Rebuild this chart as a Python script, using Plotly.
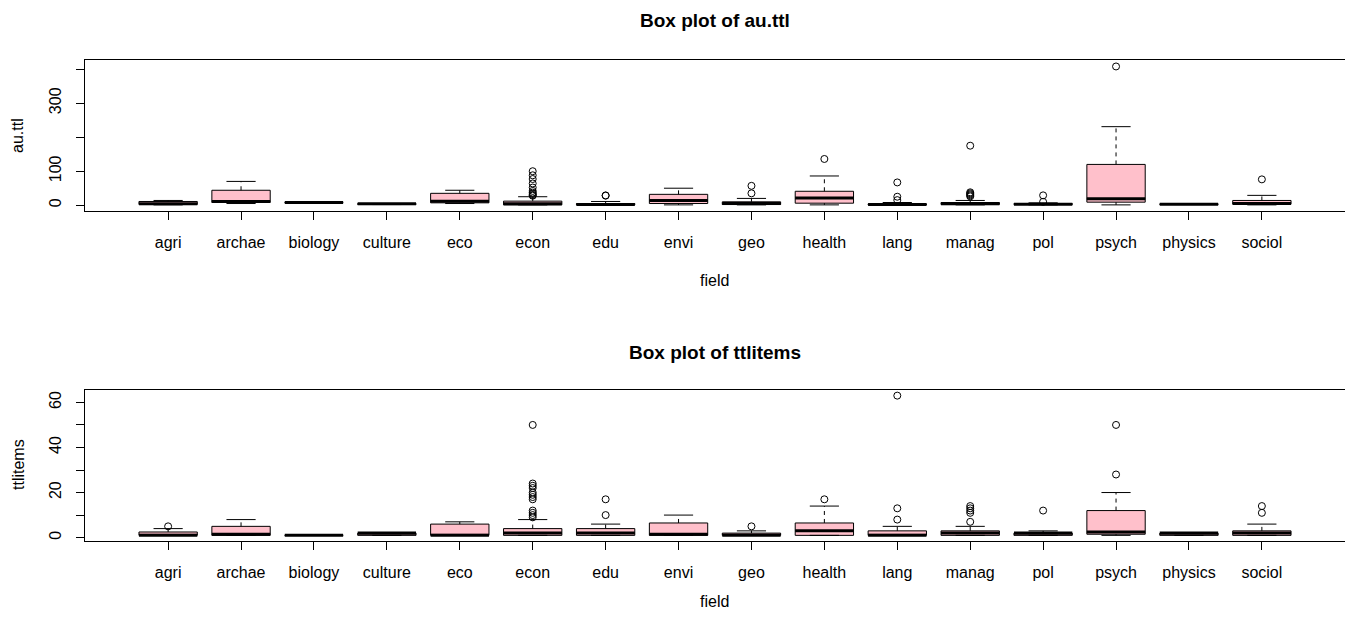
import plotly.graph_objects as go

# ---------------- data ----------------
fields = ["agri", "archae", "biology", "culture", "eco", "econ", "edu", "envi",
          "geo", "health", "lang", "manag", "pol", "psych", "physics", "sociol"]
positions = list(range(1, len(fields) + 1))

# au.ttl  (five-number summaries + outliers)
au_lower  = [1, 5, 8, 2, 5, 1, 1, 1, 1, 1, 1, 1, 1, 1, 2, 1]
au_q1     = [2, 8, 8, 2, 7, 1, 1, 5, 2, 6, 1, 2, 2, 9, 2, 3]
au_median = [4, 11, 8, 4, 12, 4, 2, 14, 5, 21, 2, 4, 3, 19, 3, 5]
au_q3     = [11, 44, 8, 5, 35, 12, 5, 32, 10, 41, 4, 8, 5, 120, 4, 14]
au_upper  = [14, 70, 8, 5, 44, 25, 11, 50, 20, 86, 8, 14, 7, 231, 4, 29]
au_out = [[], [], [], [], [],
          [100, 88, 77, 64, 52, 42, 37, 33, 30, 28],
          [28, 29], [], [57, 35], [136], [67, 25, 15],
          [175, 38, 35, 32, 29, 26], [29, 10], [408], [], [76]]

# ttlitems
tt_lower  = [1, 1, 1, 1, 1, 1, 1, 1, 1, 1, 1, 1, 1, 1, 1, 1]
tt_q1     = [1, 1, 1, 1, 1, 1, 1, 1, 1, 1, 1, 1, 1, 1.5, 1, 1]
tt_median = [1, 1.5, 1, 2, 1, 2, 2, 1.5, 1, 3, 1, 2, 2, 2.5, 2, 2]
tt_q3     = [2.5, 5, 1, 2, 6, 4, 4, 6.5, 2, 6.5, 3, 3, 2, 12, 2, 3]
tt_upper  = [4, 8, 1, 2, 7, 8, 6, 10, 3, 14, 5, 5, 3, 20, 2, 6]
tt_out = [[5], [], [], [], [],
          [50, 24, 23, 22, 20, 19, 18, 17, 12, 11, 10, 9],
          [17, 10], [], [5], [17], [63, 13, 8],
          [14, 13, 12, 11, 7], [12], [50, 28], [], [14, 11]]

au_yticks = [0, 100, 200, 300, 400]
au_yticktext = ["0", "100", "", "300", ""]
tt_yticks = [0, 10, 20, 30, 40, 50, 60]
tt_yticktext = ["0", "", "20", "", "40", "", "60"]

# ---------------- style ----------------
FONT = "Liberation Sans, Arial, sans-serif"
PINK = "#FFC0CB"
BOXW = 0.8
CAPW = 0.4
OFF = 8                      # page body margin
W, H = 1353 - 2 * OFF, 618 - 2 * OFF

fig = go.Figure()


def add_panel(xa, ya, lower, q1, med, q3, upper, outs):
    fig.add_trace(go.Box(
        x=positions, q1=q1, median=med, q3=q3, lowerfence=q1, upperfence=q3,
        width=BOXW, whiskerwidth=0, fillcolor=PINK,
        line=dict(color="black", width=1), boxpoints=False,
        xaxis=xa, yaxis=ya, showlegend=False, hoverinfo="skip"))
    wx, wy, cx, cy, mx, my, ox, oy = [], [], [], [], [], [], [], []
    for p, lo, a, m, b, hi, o in zip(positions, lower, q1, med, q3, upper, outs):
        wx += [p, p, None, p, p, None]
        wy += [b, hi, None, lo, a, None]
        cx += [p - CAPW / 2, p + CAPW / 2, None, p - CAPW / 2, p + CAPW / 2, None]
        cy += [hi, hi, None, lo, lo, None]
        mx += [p - BOXW / 2, p + BOXW / 2, None]
        my += [m, m, None]
        ox += [p] * len(o)
        oy += o
    fig.add_trace(go.Scatter(x=wx, y=wy, mode="lines", xaxis=xa, yaxis=ya,
                             line=dict(color="black", width=1, dash="4px,4px"),
                             showlegend=False, hoverinfo="skip"))
    fig.add_trace(go.Scatter(x=cx, y=cy, mode="lines", xaxis=xa, yaxis=ya,
                             line=dict(color="black", width=1),
                             showlegend=False, hoverinfo="skip"))
    fig.add_trace(go.Scatter(x=mx, y=my, mode="lines", xaxis=xa, yaxis=ya,
                             line=dict(color="black", width=3),
                             showlegend=False, hoverinfo="skip"))
    fig.add_trace(go.Scatter(x=ox, y=oy, mode="markers", xaxis=xa, yaxis=ya,
                             marker=dict(symbol="circle-open", size=7,
                                         color="black", line=dict(width=1)),
                             showlegend=False, hoverinfo="skip"))


add_panel("x", "y", au_lower, au_q1, au_median, au_q3, au_upper, au_out)
add_panel("x2", "y2", tt_lower, tt_q1, tt_median, tt_q3, tt_upper, tt_out)


def px_x(x):
    return (x - OFF) / W


def px_y(y):
    return (H - (y - OFF)) / H


xdom = [px_x(85), px_x(1345)]
top_dom = [px_y(211), px_y(60)]
bot_dom = [px_y(541), px_y(390)]

common_x = dict(range=[-0.14, 17.14], tickvals=positions, ticktext=fields,
                ticks="outside", ticklen=8, tickcolor="black", tickwidth=1,
                showline=True, mirror=True, linecolor="black", linewidth=1,
                showgrid=False, zeroline=False, ticklabelstandoff=9,
                tickfont=dict(family=FONT, size=16, color="black"),
                domain=xdom, fixedrange=True)
common_y = dict(ticks="outside", ticklen=8, tickcolor="black", tickwidth=1,
                showline=True, mirror=True, linecolor="black", linewidth=1,
                showgrid=False, zeroline=False, tickangle=-90,
                ticklabelstandoff=9,
                tickfont=dict(family=FONT, size=16, color="black"),
                fixedrange=True)

fig.update_layout(
    width=W, height=H, margin=dict(l=0, r=0, t=0, b=0),
    paper_bgcolor="white", plot_bgcolor="white",
    xaxis=dict(common_x, anchor="y"),
    xaxis2=dict(common_x, anchor="y2"),
    yaxis=dict(common_y, anchor="x", domain=top_dom, range=[-17, 427],
               tickvals=au_yticks, ticktext=au_yticktext),
    yaxis2=dict(common_y, anchor="x2", domain=bot_dom, range=[-1.5, 65.5],
                tickvals=tt_yticks, ticktext=tt_yticktext),
    font=dict(family=FONT, color="black"),
)

xc = px_x((85 + 1345) / 2)
ann = [
    dict(text="<b>Box plot of au.ttl</b>", x=xc, y=px_y(20), size=19, angle=0),
    dict(text="<b>Box plot of ttlitems</b>", x=xc, y=px_y(352), size=19, angle=0),
    dict(text="field", x=xc, y=px_y(280), size=16, angle=0),
    dict(text="field", x=xc, y=px_y(601), size=16, angle=0),
    dict(text="au.ttl", x=px_x(18), y=px_y(136), size=16, angle=-90),
    dict(text="ttlitems", x=px_x(18), y=px_y(465), size=16, angle=-90),
]
for a in ann:
    fig.add_annotation(text=a["text"], x=a["x"], y=a["y"], xref="paper", yref="paper",
                       xanchor="center", yanchor="middle", showarrow=False,
                       textangle=a["angle"],
                       font=dict(family=FONT, size=a["size"], color="black"))

fig.write_html("out.html")
